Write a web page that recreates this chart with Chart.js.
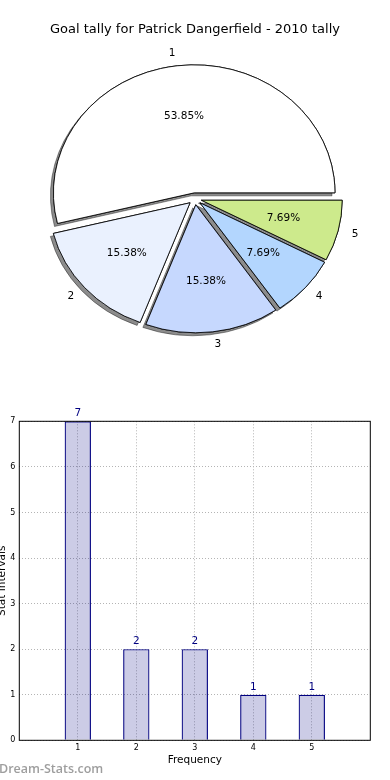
<!DOCTYPE html>
<html>
<head>
<meta charset="utf-8">
<script src="https://cdn.jsdelivr.net/npm/chart.js@4.4.1/dist/chart.umd.min.js"></script>
<style>
  body { margin: 0; background: #fff; width: 390px; height: 780px; overflow: hidden; position: relative; }
  #pieWrap { position: absolute; left: 0; top: 0; width: 390px; height: 360px; }
  #barWrap { position: absolute; left: -4px; top: 400px; width: 394px; height: 380px; }
  #mark { position: absolute; left: -1px; top: 760px; font: 600 12.5px 'Open Sans', sans-serif; color: #9e9e9e; }
</style>
</head>
<body>
<div id="pieWrap"><canvas id="pieChart"></canvas></div>
<div id="barWrap"><canvas id="barChart"></canvas></div>
<div id="mark">Dream-Stats.com</div>
<script>
// ----- data -----
const chartTitle = 'Goal tally for Patrick Dangerfield - 2010 tally';
const categories = ['1', '2', '3', '4', '5'];
const goals = [7, 2, 2, 1, 1];
const sliceColors = ['#ffffff', '#eaf1fe', '#c6d8fe', '#b3d6fe', '#cdea8c'];
const xTicks = [1, 2, 3, 4, 5];
const yTicks = [0, 1, 2, 3, 4, 5, 6, 7];

Chart.defaults.font.family = "'DejaVu Sans', sans-serif";
Chart.defaults.color = '#000';

// pie goes counter-clockwise from 3 o'clock in the original, so feed it reversed
const pieLabels = categories.slice().reverse();
const pieData = goals.slice().reverse();
const pieColors = sliceColors.slice().reverse();
const total = goals.reduce((a, b) => a + b, 0);

const pieScaleX = 1.1;   // original pie is a bit stretched sideways
const explode = 6;

// ----- pie: explode + shadow + labels -----
const pieDraw = {
    id: 'pieDraw',
    beforeDatasetsDraw(chart) {
        const ctx = chart.ctx;
        const arcs = chart.getDatasetMeta(0).data;
        const cx = arcs[0].x, cy = arcs[0].y;

        const drawAll = () => arcs.forEach(a => {
            const m = (a.startAngle + a.endAngle) / 2;
            ctx.save();
            ctx.translate(Math.cos(m) * explode, Math.sin(m) * explode);
            a.draw(ctx);
            ctx.restore();
        });

        ctx.save();
        ctx.translate(cx, cy);
        ctx.scale(pieScaleX, 1);
        ctx.translate(-cx, -cy);
        ctx.save();
        ctx.shadowColor = 'rgba(0,0,0,0.45)';
        ctx.shadowOffsetX = -3;
        ctx.shadowOffsetY = 3;
        drawAll();
        ctx.restore();
        drawAll();
        ctx.restore();

        ctx.save();
        ctx.font = "10.5px 'DejaVu Sans'";
        ctx.fillStyle = '#000';
        ctx.textBaseline = 'middle';
        arcs.forEach((a, i) => {
            const m = (a.startAngle + a.endAngle) / 2;
            const r = a.outerRadius;
            const pos = k => [cx + Math.cos(m) * (k * r + explode) * pieScaleX, cy + Math.sin(m) * (k * r + explode)];
            let [x, y] = pos(0.6);
            ctx.textAlign = 'center';
            ctx.fillText((pieData[i] / total * 100).toFixed(2) + '%', x, y);
            [x, y] = pos(1.1);
            ctx.textAlign = Math.cos(m) >= 0 ? 'left' : 'right';
            ctx.fillText(pieLabels[i], x, y);
        });
        ctx.restore();
        return false;
    }
};

new Chart(document.getElementById('pieChart'), {
    type: 'pie',
    data: {
        labels: pieLabels,
        datasets: [{
            data: pieData,
            backgroundColor: pieColors,
            borderColor: '#000',
            borderWidth: 0.8,
            borderJoinStyle: 'miter',
            rotation: 90,
            radius: 128
        }]
    },
    options: {
        responsive: true,
        maintainAspectRatio: false,
        animation: false,
        layout: { padding: 0 },
        plugins: {
            legend: { display: false },
            tooltip: { enabled: false },
            title: { display: true, text: chartTitle, color: '#000', font: { size: 13, weight: 'normal' }, padding: { top: 22, bottom: 0 } }
        }
    },
    plugins: [pieDraw]
});

// ----- bar chart -----
const barLabels = {
    id: 'barLabels',
    afterDatasetsDraw(chart) {
        const ctx = chart.ctx;
        ctx.save();
        ctx.font = "10.5px 'DejaVu Sans'";
        ctx.fillStyle = '#000080';
        ctx.textAlign = 'center';
        ctx.textBaseline = 'alphabetic';
        chart.getDatasetMeta(0).data.forEach((bar, i) => {
            ctx.fillText(String(goals[i]), bar.x, bar.y - 5);
        });
        ctx.restore();
    }
};

const frame = {
    id: 'frame',
    afterDraw(chart) {
        const { ctx, chartArea: a } = chart;
        ctx.save();
        ctx.strokeStyle = '#000';
        ctx.lineWidth = 1;
        ctx.strokeRect(a.left, a.top, a.width, a.height);
        ctx.restore();
    }
};

new Chart(document.getElementById('barChart'), {
    type: 'bar',
    data: {
        datasets: [{
            data: categories.map((c, i) => ({ x: Number(c), y: goals[i] })),
            backgroundColor: 'rgba(0,0,128,0.2)',
            borderColor: '#000080',
            borderWidth: 1.2,
            barPercentage: 0.45,
            categoryPercentage: 1
        }]
    },
    options: {
        responsive: true,
        maintainAspectRatio: false,
        animation: false,
        layout: { padding: { top: 21.3, right: 19.7, bottom: 13.4, left: 0 } },
        plugins: { legend: { display: false }, tooltip: { enabled: false } },
        scales: {
            x: {
                type: 'linear', min: 0, max: 6, offset: false,
                afterBuildTicks: s => { s.ticks = xTicks.map(v => ({ value: v })); },
                afterFit: s => { s.height = 26.3; },
                ticks: { font: { size: 8 }, color: '#000', padding: 3 },
                grid: { color: '#b4b4b4', drawTicks: false, offset: false },
                border: { display: false, dash: [1, 2] },
                title: { display: true, text: 'Frequency', font: { size: 10.5 }, color: '#000', padding: 0 }
            },
            y: {
                min: 0, max: 7,
                afterBuildTicks: s => { s.ticks = yTicks.map(v => ({ value: v })); },
                afterFit: s => { s.width = 23.3; },
                ticks: { font: { size: 8 }, color: '#000', padding: 4 },
                grid: { color: '#b4b4b4', drawTicks: false },
                border: { display: false, dash: [1, 2] },
                title: { display: true, text: 'Stat Intervals', font: { size: 10.5 }, color: '#000', padding: 0 }
            }
        }
    },
    plugins: [barLabels, frame]
});
</script>
</body>
</html>
